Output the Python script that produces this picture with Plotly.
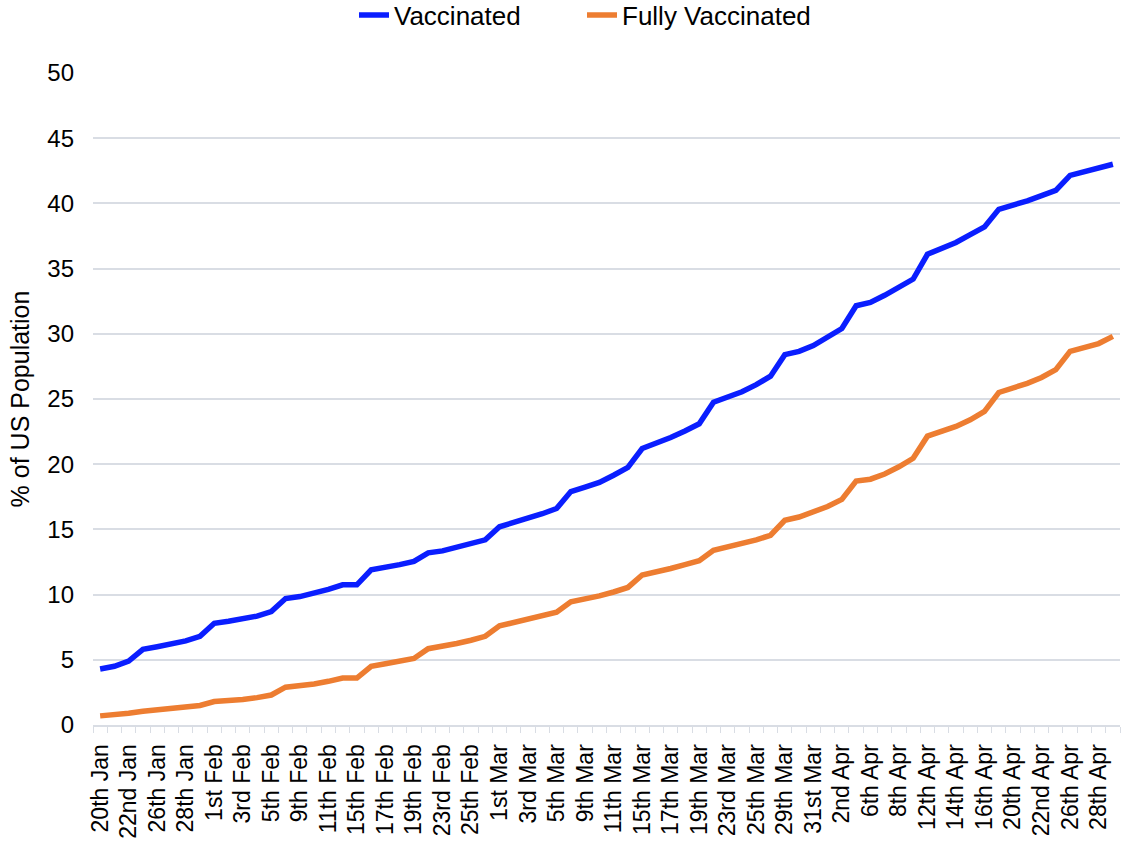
import plotly.graph_objects as go

# Weekday reporting dates (category labels)
dates = [
    "20th Jan", "21st Jan", "22nd Jan", "25th Jan", "26th Jan", "27th Jan", "28th Jan", "29th Jan",
    "1st Feb", "2nd Feb", "3rd Feb", "4th Feb", "5th Feb", "8th Feb", "9th Feb", "10th Feb",
    "11th Feb", "12th Feb", "15th Feb", "16th Feb", "17th Feb", "18th Feb", "19th Feb", "22nd Feb",
    "23rd Feb", "24th Feb", "25th Feb", "26th Feb", "1st Mar", "2nd Mar", "3rd Mar", "4th Mar",
    "5th Mar", "8th Mar", "9th Mar", "10th Mar", "11th Mar", "12th Mar", "15th Mar", "16th Mar",
    "17th Mar", "18th Mar", "19th Mar", "22nd Mar", "23rd Mar", "24th Mar", "25th Mar", "26th Mar",
    "29th Mar", "30th Mar", "31st Mar", "1st Apr", "2nd Apr", "5th Apr", "6th Apr", "7th Apr",
    "8th Apr", "9th Apr", "12th Apr", "13th Apr", "14th Apr", "15th Apr", "16th Apr", "19th Apr",
    "20th Apr", "21st Apr", "22nd Apr", "23rd Apr", "26th Apr", "27th Apr", "28th Apr", "29th Apr",
]

# % of US population with at least one dose
vaccinated = [
    4.3, 4.5, 4.9, 5.8, 6.0, 6.2, 6.45, 6.8,
    7.8, 7.95, 8.15, 8.35, 8.7, 9.7, 9.85, 10.1,
    10.4, 10.75, 10.75, 11.9, 12.05, 12.3, 12.55, 13.2,
    13.35, 13.6, 13.85, 14.2, 15.2, 15.5, 15.85, 16.2,
    16.6, 17.9, 18.25, 18.6, 19.15, 19.75, 21.2, 21.6,
    22.05, 22.55, 23.1, 24.75, 25.1, 25.55, 26.1, 26.75,
    28.4, 28.65, 29.1, 29.7, 30.4, 32.15, 32.4, 32.95,
    33.55, 34.2, 36.1, 36.55, 37.0, 37.6, 38.2, 39.55,
    39.85, 40.2, 40.6, 41.0, 42.15, 42.4, 42.7, 43.0,
]

# % of US population fully vaccinated
fully_vaccinated = [
    0.7, 0.75, 0.9, 1.05, 1.15, 1.25, 1.35, 1.5,
    1.8, 1.85, 1.95, 2.1, 2.3, 2.9, 3.0, 3.15,
    3.35, 3.6, 3.6, 4.5, 4.7, 4.9, 5.1, 5.85,
    6.0, 6.25, 6.5, 6.8, 7.6, 7.85, 8.1, 8.35,
    8.65, 9.45, 9.65, 9.9, 10.2, 10.55, 11.5, 11.7,
    12.0, 12.3, 12.6, 13.4, 13.65, 13.9, 14.2, 14.55,
    15.7, 15.95, 16.3, 16.75, 17.3, 18.7, 18.85, 19.25,
    19.8, 20.45, 22.15, 22.5, 22.9, 23.4, 24.05, 25.5,
    25.8, 26.2, 26.65, 27.25, 28.65, 28.9, 29.25, 29.8,
]

FONT = "Arial, Liberation Sans, sans-serif"
GRID = "#d9dde4"

fig = go.Figure()

fig.add_trace(go.Scatter(
    x=dates,
    y=vaccinated,
    mode="lines",
    name="Vaccinated",
    line=dict(color="#0a1eff", width=5.5),
))

fig.add_trace(go.Scatter(
    x=dates,
    y=fully_vaccinated,
    mode="lines",
    name="Fully Vaccinated",
    line=dict(color="#ed7d31", width=5.5),
))

fig.update_layout(
    width=1122,
    height=850,
    margin=dict(l=93, r=2, t=73, b=125, autoexpand=False),
    paper_bgcolor="white",
    plot_bgcolor="white",
    font=dict(family=FONT, size=24, color="black"),
    showlegend=True,
    legend=dict(
        orientation="h",
        x=354 / 1122,
        xref="container",
        xanchor="left",
        y=1 - 15 / 850,
        yref="container",
        yanchor="middle",
        font=dict(size=26),
        itemwidth=30,
        entrywidth=183,
        traceorder="normal",
    ),
    xaxis=dict(
        type="category",
        showgrid=False,
        showline=True,
        linecolor=GRID,
        linewidth=2,
        ticks="outside",
        tickson="boundaries",
        tickcolor=GRID,
        ticklen=6,
        dtick=1,
        ticklabelstep=2,
        tickangle=-90,
        tickfont=dict(size=23),
        ticklabelstandoff=8,
        range=[-0.5, 71.5],
    ),
    yaxis=dict(
        range=[0, 50],
        dtick=5,
        showgrid=True,
        gridcolor=GRID,
        gridwidth=1.5,
        zeroline=False,
        tickfont=dict(size=24),
        ticklabelstandoff=18,
        title=dict(text="% of US Population", font=dict(size=25), standoff=10),
    ),
)

# drop the default 8px body margin so the figure sits at the page origin
fig.write_html(
    "out.html",
    config={"displayModeBar": False},
    post_script="document.body.style.margin='0';",
)
